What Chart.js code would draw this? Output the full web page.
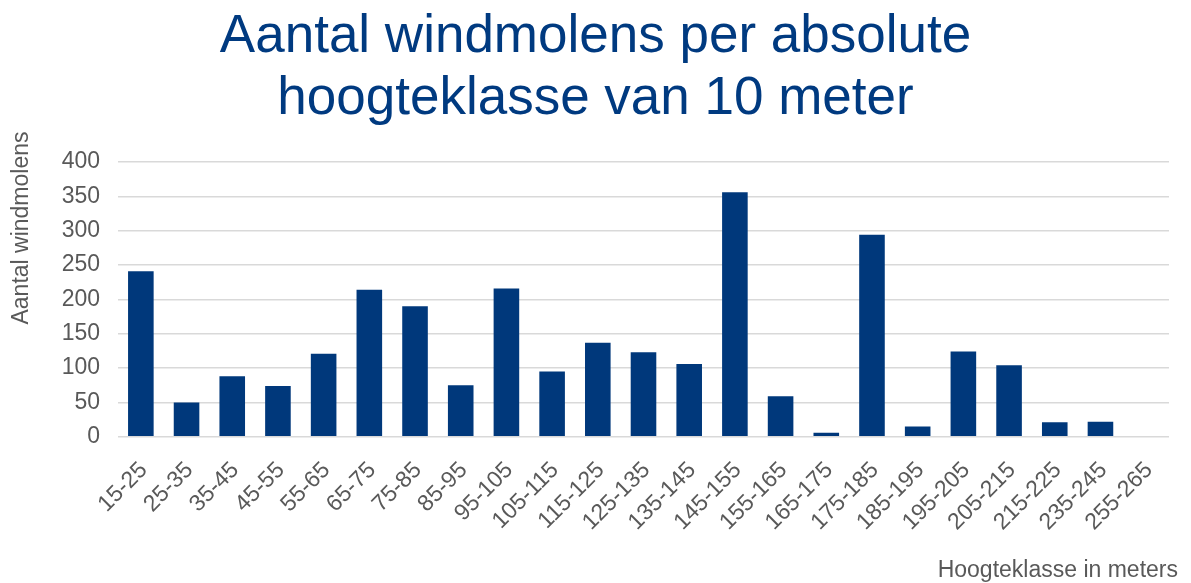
<!DOCTYPE html>
<html>
<head>
<meta charset="utf-8">
<title>Aantal windmolens per absolute hoogteklasse van 10 meter</title>
<script src="https://cdn.jsdelivr.net/npm/chart.js@4.4.1/dist/chart.umd.min.js"></script>
<style>
    body { margin: 0; background: #fff; }
    #wrap { width: 1191px; height: 583px; }
</style>
</head>
<body>
<div id="wrap"><canvas id="grafikWindmolens" width="1191" height="583"></canvas></div>
<script>
var klassen = ["15-25","25-35","35-45","45-55","55-65","65-75","75-85","85-95","95-105","105-115","115-125","125-135","135-145","145-155","155-165","165-175","175-185","185-195","195-205","205-215","215-225","235-245","255-265"];
var aantal = [241, 50, 88, 74, 121, 214, 190, 75, 216, 95, 137, 123, 106, 356, 59, 6, 294, 15, 124, 104, 21, 22, 1];
var yTicks = [0, 50, 100, 150, 200, 250, 300, 350, 400];

var judul = ["Aantal windmolens per absolute", "hoogteklasse van 10 meter"];
var judulY = "Aantal windmolens";
var judulX = "Hoogteklasse in meters";

var warnaBar = "#00387b";
var warnaTeks = "#595959";
var fontNya = "'Liberation Sans', Arial, sans-serif";

// as-titels zelf tekenen, zodat ze op dezelfde plek staan als in het origineel
var asTitels = {
    id: "asTitels",
    afterDraw: function(chart) {
        var ctx = chart.ctx;
        var area = chart.chartArea;
        ctx.save();
        ctx.fillStyle = warnaTeks;
        ctx.font = "23px " + fontNya;
        ctx.textBaseline = "middle";

        ctx.translate(22, area.top + 66);
        ctx.rotate(-Math.PI / 2);
        ctx.textAlign = "center";
        ctx.fillText(judulY, 0, 0);
        ctx.restore();

        ctx.save();
        ctx.fillStyle = warnaTeks;
        ctx.font = "23px " + fontNya;
        ctx.textBaseline = "middle";
        ctx.textAlign = "right";
        ctx.fillText(judulX, area.right + 9, chart.height - 12);
        ctx.restore();
    }
};

var ctx = document.getElementById("grafikWindmolens").getContext("2d");
window.myBar = new Chart(ctx, {
    type: "bar",
    data: {
        labels: klassen,
        datasets: [{ data: aantal, backgroundColor: warnaBar, borderWidth: 0, categoryPercentage: 1, barPercentage: 0.56 }]
    },
    options: {
        responsive: false,
        animation: false,
        layout: { padding: { left: 22, right: 22, bottom: 35 } },
        plugins: {
            legend: { display: false },
            tooltip: { enabled: false },
            title: { display: true, text: judul, color: "#003a80", font: { family: fontNya, size: 53, weight: "normal", lineHeight: 1.17 }, padding: { top: 6, bottom: 32 } }
        },
        scales: {
            x: {
                grid: { display: false },
                border: { display: false },
                ticks: { color: warnaTeks, font: { family: fontNya, size: 23 }, autoSkip: false, maxRotation: 45, minRotation: 45, padding: 12, labelOffset: 3 }
            },
            y: {
                min: 0, max: 400,
                afterBuildTicks: function(axis) { axis.ticks = yTicks.map(function(v) { return { value: v }; }); },
                afterFit: function(axis) { axis.width = 96; },
                grid: { color: "#d9d9d9", lineWidth: 1.4, drawTicks: false },
                border: { display: false },
                ticks: { color: warnaTeks, font: { family: fontNya, size: 23 }, padding: 18 }
            }
        }
    },
    plugins: [asTitels]
});
</script>
</body>
</html>
